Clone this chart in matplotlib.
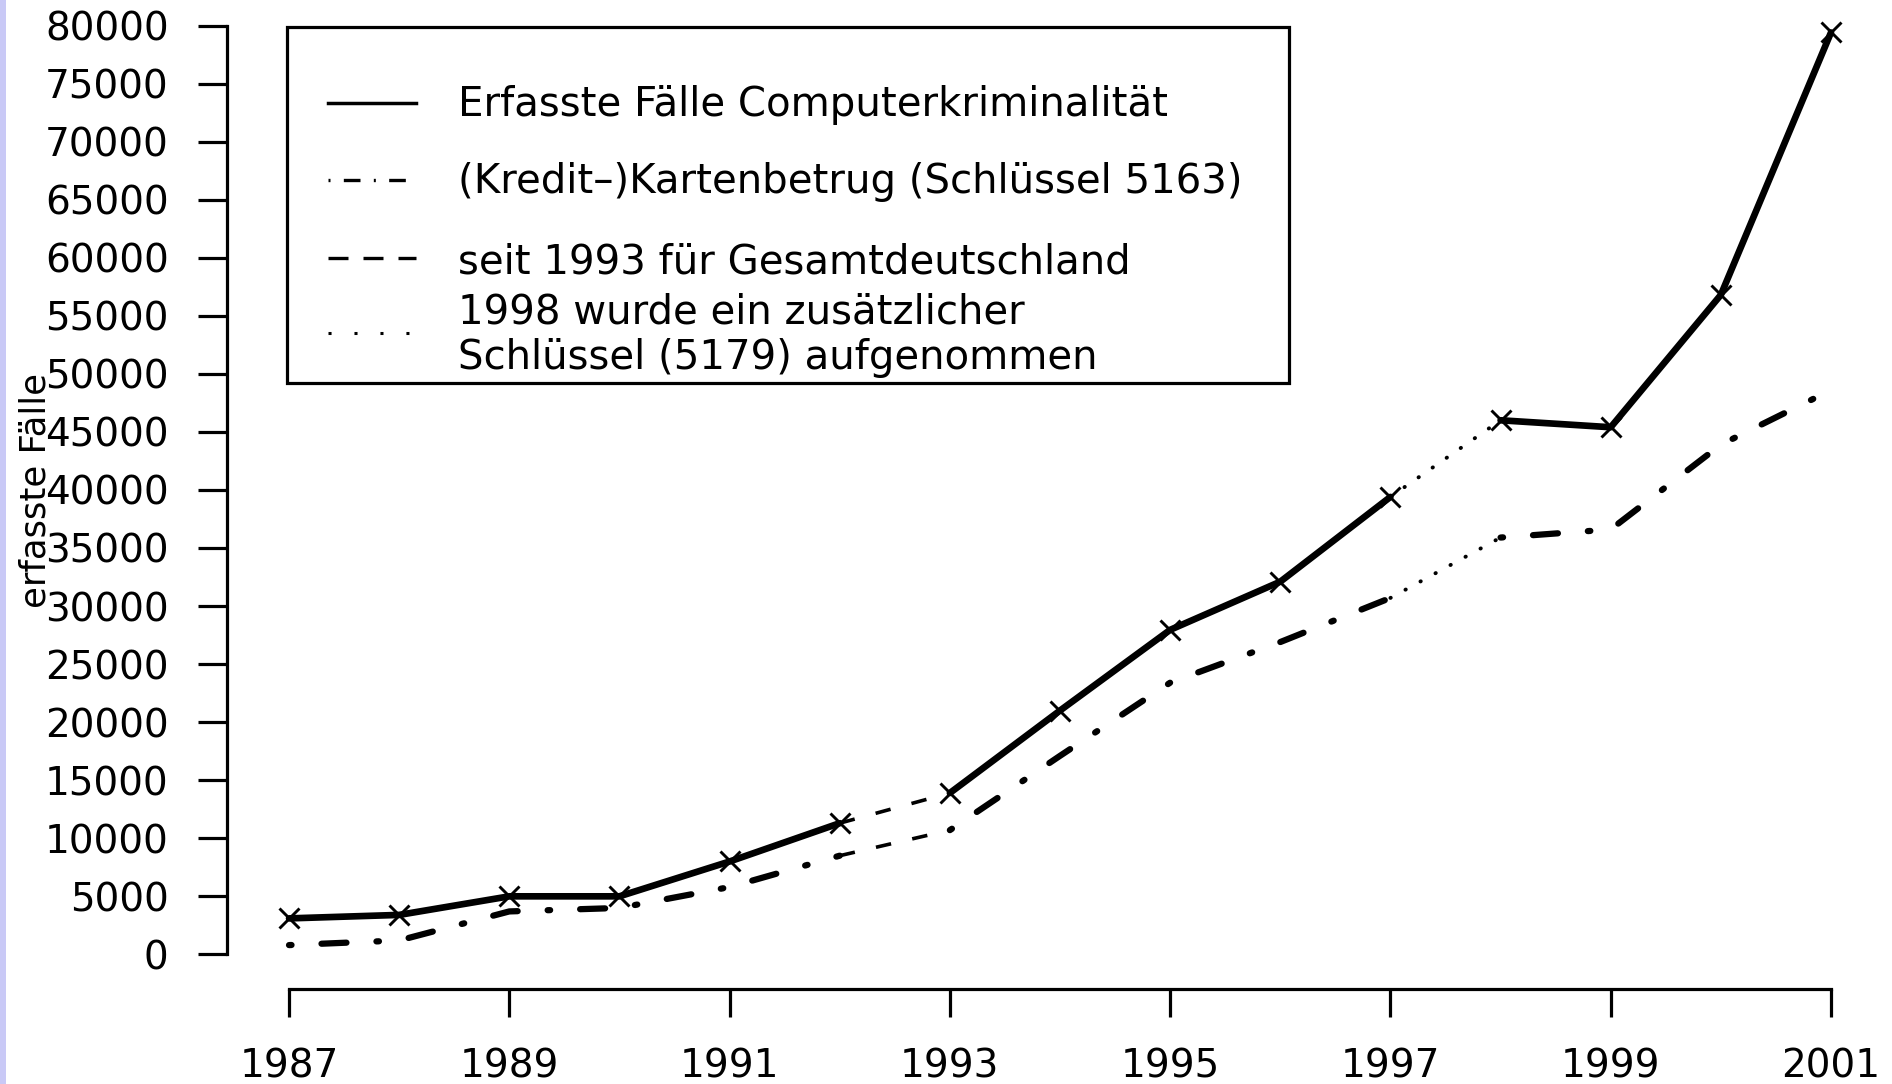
import numpy as np
import matplotlib
matplotlib.use("Agg")
import matplotlib.pyplot as plt
from matplotlib.lines import Line2D
from matplotlib.patches import Rectangle

# data
years = [1987, 1988, 1989, 1990, 1991, 1992, 1993, 1994,
         1995, 1996, 1997, 1998, 1999, 2000, 2001]
computer_cases = [3100, 3400, 5000, 5000, 8000, 11300, 13900, 21000,
                  27950, 32100, 39400, 46000, 45400, 56800, 79400]
card_fraud = [800, 1200, 3700, 4000, 5800, 8500, 10700, 17100,
              23400, 26900, 30700, 35900, 36600, 43900, 48600]

year_ticks = [1987, 1989, 1991, 1993, 1995, 1997, 1999, 2001]
value_ticks = list(range(0, 80001, 5000))

legend_labels = [
    "Erfasste Fälle Computerkriminalität",
    "(Kredit–)Kartenbetrug (Schlüssel 5163)",
    "seit 1993 für Gesamtdeutschland",
    ["1998 wurde ein zusätzlicher", "Schlüssel (5179) aufgenommen"],
]
y_label = "erfasste Fälle"

GESAMT_FROM = 1993   # since then: whole of Germany
NEW_KEY_FROM = 1998  # additional key added

W, H = 1892, 1084


def px(x, y):
    """pixel position (from top left) -> figure fraction"""
    return x / W, 1 - y / H


solid = dict(color="black", lw=4.8, solid_capstyle="round", solid_joinstyle="round")
dotdash = dict(color="black", lw=4.5, dashes=(0.4, 4.8, 4.0, 4.8),
               dash_capstyle="round", solid_joinstyle="round")
thin_dashed = dict(color="black", lw=2.6, dashes=(4.3, 6.0), dash_capstyle="butt")
thin_dotted = dict(color="black", lw=2.8, dashes=(0.1, 4.3), dash_capstyle="round")


def plot_series(ax, values, main_style, markers=False):
    x = np.array(years)
    v = np.array(values)
    runs = [x < GESAMT_FROM,
            (x >= GESAMT_FROM) & (x < NEW_KEY_FROM),
            x >= NEW_KEY_FROM]
    for m in runs:
        ax.plot(x[m], v[m], clip_on=False, zorder=3, **main_style)
    link = (x >= GESAMT_FROM - 1) & (x <= GESAMT_FROM)
    ax.plot(x[link], v[link], clip_on=False, zorder=3, **thin_dashed)
    link = (x >= NEW_KEY_FROM - 1) & (x <= NEW_KEY_FROM)
    ax.plot(x[link], v[link], clip_on=False, zorder=3, **thin_dotted)
    if markers:
        ax.plot(x, v, ls="none", marker="x", ms=15, mew=2.1, color="black",
                clip_on=False, zorder=4)


fig = plt.figure(figsize=(W / 100, H / 100), dpi=100)
fig.patch.set_facecolor("white")

# axes box: left spine at x=227, bottom spine at y=989, top at 80000 (y=25.5)
left, top, right, bottom = 227, 25.5, 1831, 989
ax = fig.add_axes([left / W, 1 - bottom / H, (right - left) / W, (bottom - top) / H])
ax.set_xlim(1987 - 62 / 110.1, 2001)
ax.set_ylim(-(989 - 954.4) / 11.606 * 1000, 80000)

plot_series(ax, computer_cases, solid, markers=True)
plot_series(ax, card_fraud, dotdash)

for s in ["top", "right"]:
    ax.spines[s].set_visible(False)
ax.spines["left"].set_bounds(0, 80000)
ax.spines["bottom"].set_bounds(years[0], years[-1])
for s in ["left", "bottom"]:
    ax.spines[s].set_linewidth(2.3)

ax.set_xticks(year_ticks)
ax.set_xticklabels([str(t) for t in year_ticks])
ax.set_yticks(value_ticks)
ax.set_yticklabels([str(t) for t in value_ticks])
ax.tick_params(axis="both", direction="out", length=21, width=2.3, labelsize=28)
ax.tick_params(axis="y", pad=21)
ax.tick_params(axis="x", pad=22, length=20)

# y label, overlapping tick labels like in the original
fig.text(*px(36, 490), y_label, rotation=90, ha="center", va="center", fontsize=25.5)

# legend drawn by hand (R style box)
bx0, by0, bx1, by1 = 287, 26.5, 1289, 382.5
fx0, fy1 = px(bx0, by0)
fx1, fy0 = px(bx1, by1)
fig.add_artist(Rectangle((fx0, fy0), fx1 - fx0, fy1 - fy0, transform=fig.transFigure,
                         facecolor="white", edgecolor="black", lw=2.3, zorder=5))

sample_styles = [
    dict(color="black", lw=2.5),
    dict(color="black", lw=2.4, dashes=(0.6, 4.0, 5.0, 4.0)),
    dict(color="black", lw=2.4, dashes=(6.0, 4.5)),
    dict(color="black", lw=2.2, dashes=(1.0, 7.5)),
]
sample_y = [103, 180, 258, 333]
text_baselines = [116, 193, 273, [323, 369]]
for style, sy, lab, base in zip(sample_styles, sample_y, legend_labels, text_baselines):
    xa, ya = px(328, sy)
    xb, _ = px(416, sy)
    fig.add_artist(Line2D([xa, xb], [ya, ya], transform=fig.transFigure, zorder=6, **style))
    if isinstance(lab, list):
        for line, b in zip(lab, base):
            fig.text(*px(458, b), line, ha="left", va="baseline", fontsize=29, zorder=6)
    else:
        fig.text(*px(458, base), lab, ha="left", va="baseline", fontsize=29, zorder=6)

# lavender strip on the left edge
fig.add_artist(Rectangle((0, 0), 6 / W, 1, transform=fig.transFigure,
                         facecolor="#c9c9f6", edgecolor="none", zorder=10))

fig.savefig("out.png", dpi=100)
